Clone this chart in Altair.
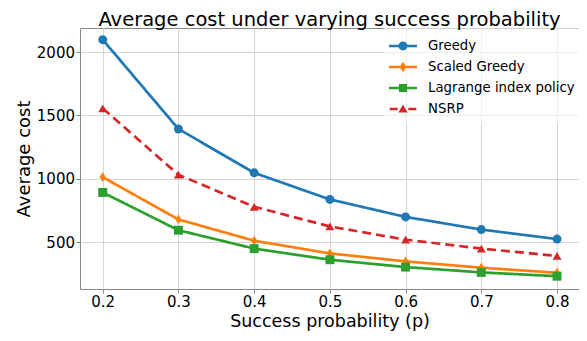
import altair as alt
import pandas as pd

p_values = [0.2, 0.3, 0.4, 0.5, 0.6, 0.7, 0.8]
greedy = [2098, 1393, 1047, 837, 699, 599, 524]
scaled_greedy = [1013, 679, 511, 411, 348, 298, 258]
lagrange = [892, 594, 449, 361, 303, 261, 231]
nsrp = [1556, 1032, 779, 624, 519, 449, 391]

series_names = ["Greedy", "Scaled Greedy", "Lagrange index policy", "NSRP"]
series_values = [greedy, scaled_greedy, lagrange, nsrp]
colors = ["#1f77b4", "#ff7f0e", "#2ca02c", "#d62728"]
x_ticks = [0.2, 0.3, 0.4, 0.5, 0.6, 0.7, 0.8]
y_ticks = [500, 1000, 1500, 2000]

rows = []
for name, vals in zip(series_names, series_values):
    for p, v in zip(p_values, vals):
        rows.append({"p": p, "cost": v, "method": name})
df = pd.DataFrame(rows)

FONT = "DejaVu Sans"

x_enc = alt.X("p:Q", scale=alt.Scale(domain=[0.17, 0.829], nice=False, zero=False),
              axis=alt.Axis(values=x_ticks, format=".1f", title="Success probability (p)"))
y_enc = alt.Y("cost:Q", scale=alt.Scale(domain=[130, 2190], nice=False, zero=False),
              axis=alt.Axis(values=y_ticks, format="d", title="Average cost"))

color_scale = alt.Scale(domain=series_names, range=colors)

lines = alt.Chart(df).mark_line(strokeWidth=2.7).encode(
    x=x_enc, y=y_enc,
    color=alt.Color("method:N", scale=color_scale, legend=None),
    strokeDash=alt.StrokeDash("method:N", scale=alt.Scale(domain=series_names,
                              range=[[1, 0], [1, 0], [1, 0], [9, 5]]), legend=None),
)

points = alt.Chart(df).mark_point(filled=True, size=80, opacity=1).encode(
    x=x_enc, y=y_enc,
    color=alt.Color("method:N", scale=color_scale, legend=None),
    shape=alt.Shape("method:N", scale=alt.Scale(domain=series_names, range=[
        "circle", "M0,-1.1L0.7,0L0,1.1L-0.7,0Z", "square", "triangle-up"]), legend=None),
)

line_part = "M-1,-0.09H1V0.09H-1Z"
leg_shapes = [
    line_part + "M0.32,0A0.32,0.32 0 1,1 -0.32,0A0.32,0.32 0 1,1 0.32,0Z",
    line_part + "M0,-0.38L0.25,0L0,0.38L-0.25,0Z",
    line_part + "M-0.29,-0.29H0.29V0.29H-0.29Z",
    "M-0.95,-0.09H-0.38V0.09H-0.95Z M0.38,-0.09H0.95V0.09H0.38Z M0,-0.32L0.33,0.25L-0.33,0.25Z",
]

legend_def = alt.Legend(
    title=None, orient="none", legendX=303, legendY=-2,
    labelFontSize=13.3, labelFont=FONT, labelColor="black",
    symbolSize=784, symbolStrokeWidth=0, symbolOpacity=1,
    labelOffset=11, rowPadding=-10, padding=6,
    fillColor="rgba(255,255,255,0.6)", strokeColor="rgba(255,255,255,0)", cornerRadius=3,
)

legend_layer = alt.Chart(df).mark_point(filled=True, opacity=0).encode(
    x=x_enc, y=y_enc,
    color=alt.Color("method:N", scale=color_scale, legend=legend_def),
    shape=alt.Shape("method:N", scale=alt.Scale(domain=series_names, range=leg_shapes),
                    legend=legend_def),
)

chart = alt.layer(lines, points, legend_layer).resolve_scale(
    color="independent", shape="independent", strokeDash="independent"
).properties(
    width=499, height=261,
    autosize=alt.AutoSizeParams(type="none"),
    padding={"left": 72, "top": 20, "right": 0, "bottom": 44},
    title=alt.TitleParams("Average cost under varying success probability",
                          fontSize=19.5, font=FONT, fontWeight="normal", color="black",
                          anchor="middle", offset=-4.5),
).configure_view(
    stroke="#888888", strokeWidth=1
).configure_axis(
    labelFont=FONT, titleFont=FONT, labelFontSize=15, titleFontSize=18,
    labelColor="black", titleColor="black", titleFontWeight="normal",
    grid=True, gridColor="#d5d5d5", gridWidth=1,
    domain=False, tickColor="#888888", tickSize=4, labelPadding=1.5,
).configure_axisY(
    titlePadding=3,
).configure_axisX(
    titlePadding=2.5, titleFontSize=17.5,
)

chart.save("out.html", embed_options={"renderer": "svg", "actions": False})
